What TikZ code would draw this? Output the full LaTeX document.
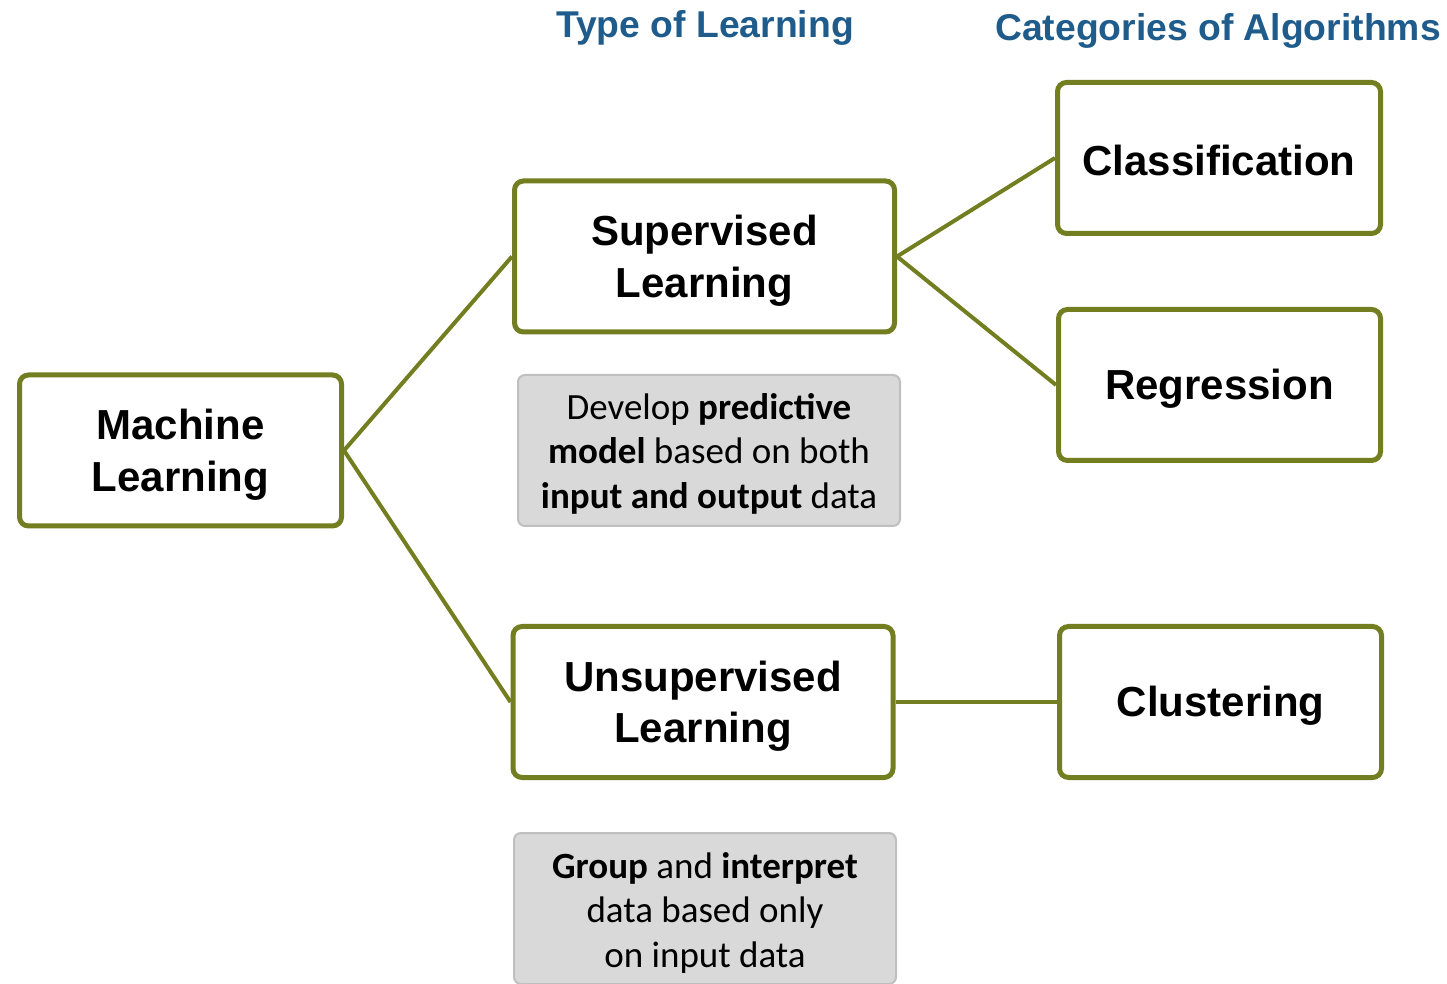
\documentclass[tikz,border=0pt]{standalone}
\usepackage{fontspec}
\setmainfont{Liberation Sans}
\newfontfamily\notefont{Carlito}
\usetikzlibrary{positioning}
\definecolor{mlgreen}{RGB}{114,126,31}
\definecolor{titleblue}{RGB}{31,92,140}
\definecolor{notefill}{RGB}{217,217,217}
\definecolor{noteline}{RGB}{191,191,191}
\tikzset{
	algbox/.style={draw=mlgreen, line width=5pt, rounded corners=9pt, fill=white,
		minimum height=151pt},
	boxtext/.style={align=center, yshift=-4pt, font=\bfseries\fontsize{42}{51.5}\selectfont},
	notebox/.style={draw=noteline, fill=notefill, line width=2pt, rounded corners=7pt,
		minimum width=382pt, minimum height=151pt},
	notetext/.style={align=center, yshift=-3pt, font=\notefont\fontsize{37}{44.5}\selectfont},
	heading/.style={text=titleblue, font=\bfseries\fontsize{37.3}{44}\selectfont},
	link/.style={mlgreen, line width=4pt}
}
\begin{document}
\begin{tikzpicture}[x=1pt,y=1pt]
	\useasboundingbox (0,0) rectangle (1447,983);
	% les titres
	\node[heading] (typetitle) at (705,955) {Type of Learning};
	\node[heading] (cattitle) at (1218,952) {Categories of Algorithms};
	% les boites
	\node[algbox, minimum width=322pt, label={[boxtext]center:Machine\\Learning}] (ml) at (180.5,532.5) {};
	\node[algbox, minimum width=380pt, label={[boxtext]center:Supervised\\Learning}] (sup) at (704.5,726.5) {};
	\node[algbox, minimum width=380pt, label={[boxtext]center:Unsupervised\\Learning}] (unsup) at (703,281) {};
	\node[algbox, minimum width=323pt, label={[boxtext, yshift=2pt]center:Classification}] (class) at (1219,825) {};
	\node[algbox, minimum width=322pt, label={[boxtext]center:Regression}] (regr) at (1219.5,598) {};
	\node[algbox, minimum width=322pt, label={[boxtext]center:Clustering}] (clust) at (1220.5,281) {};
	% les notes
	\node[notebox, label={[notetext]center:Develop \textbf{predictive}\\\textbf{model} based on both\\\textbf{input and output} data}] (supnote) at (709,532.5) {};
	\node[notebox, label={[notetext, yshift=-1pt]center:\textbf{Group} and \textbf{interpret}\\data based only\\on input data}] (unsupnote) at (705,74.5) {};
	% les liens
	\draw[link] (ml.east) -- (sup.west);
	\draw[link] (ml.east) -- (unsup.west);
	\draw[link] (sup.east) -- (class.west);
	\draw[link] (sup.east) -- (regr.west);
	\draw[link] (unsup.east) -- (clust.west);
\end{tikzpicture}
\end{document}
